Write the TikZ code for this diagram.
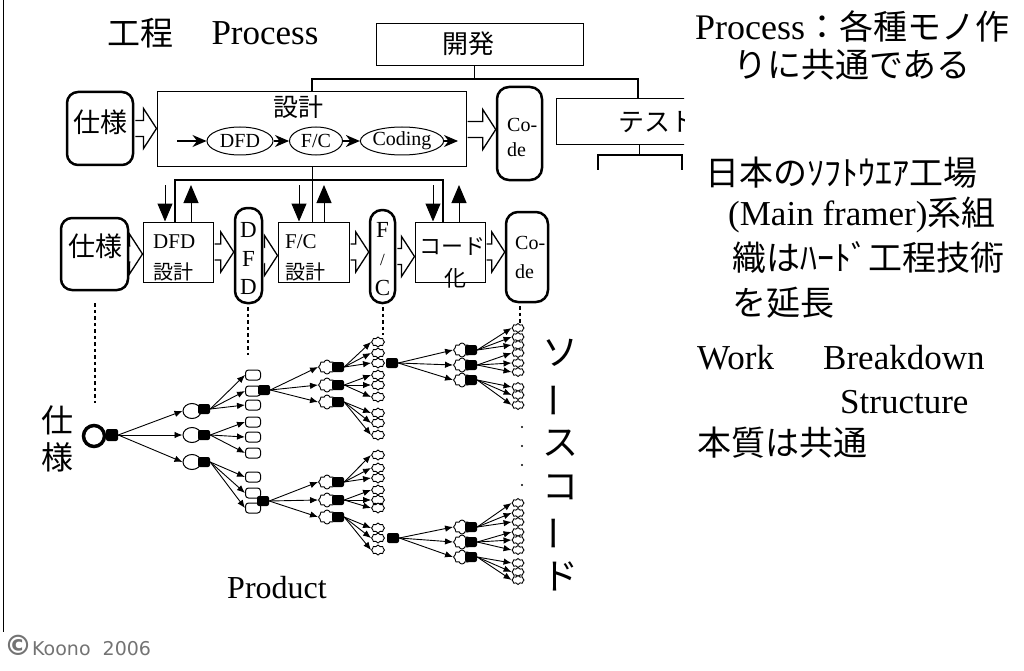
\documentclass[tikz,border=0pt]{standalone}
\usepackage{fontspec}
\setmainfont{Liberation Serif}
\newfontfamily\jp{Noto Sans CJK JP}
\newfontfamily\dv{DejaVu Sans}
\usetikzlibrary{arrows.meta,shapes.geometric,shapes.symbols,calc}
\newcommand\fsz[1]{\fontsize{#1}{#1}\selectfont}
\newcommand\harr[2]{\draw[harrow] let \p1=(#1.east), \p2=(#2.west) in
  (\x1+1pt,\y1+8pt) -- (\x2-13pt,\y1+8pt) -- (\x2-13pt,\y1+20pt) -- (\x2,\y1)
  -- (\x2-13pt,\y1-20pt) -- (\x2-13pt,\y1-8pt) -- (\x1+1pt,\y1-8pt);}
\newcommand\kids[5]{\foreach \yy [count=\k] in {#4} {\node[#5] (#2\k) at (#3,\yy) {}; \draw[tarr] (#1.east) -- (#2\k.west);}}
\begin{document}
\begin{tikzpicture}[x=1pt,y=-1pt,
 thickbox/.style={draw, line width=2.5pt, rounded corners=11pt, inner sep=0pt, fill=white},
 thinbox/.style={draw, line width=1pt, inner sep=0pt, fill=white},
 harrow/.style={draw, line width=1.3pt, fill=white, line join=miter},
 barr/.style={line width=1.4pt, -{Stealth[length=14pt,width=12pt]}},
 vdn/.style={line width=1pt, -{Triangle[length=18pt,width=15pt]}},
 thk/.style={line width=2.8pt},
 thn/.style={line width=1pt},
 dotl/.style={line width=2.8pt, dash pattern=on 3.5pt off 3pt},
 ell/.style={draw, ellipse, line width=1pt, inner sep=0pt, minimum height=28pt, fill=white, font=\fsz{20}},
 tarr/.style={line width=0.9pt, -{Latex[length=8pt,width=6.5pt]}},
 n1/.style={draw, ellipse, fill=white, line width=1pt, minimum width=18pt, minimum height=15pt, inner sep=0pt},
 n2/.style={draw, rounded corners=3pt, fill=white, line width=1pt, minimum width=15pt, minimum height=10pt, inner sep=0pt},
 n3/.style={draw, cloud, cloud puffs=8, cloud ignores aspect, fill=white, line width=0.9pt, minimum width=17pt, minimum height=14pt, inner sep=0pt},
 n4/.style={n3, minimum width=13pt, minimum height=10pt},
 n6/.style={n3, minimum width=12pt, minimum height=9pt},
 blob/.style={fill=black, rounded corners=2pt, minimum width=12pt, minimum height=10pt, inner sep=0pt},
 lt/.style={inner sep=0pt},
 dotn/.style={fill=black, circle, inner sep=0pt, minimum size=2.4pt}
]
\useasboundingbox (0,0) rectangle (1024,671);
\draw[line width=1pt] (3,0) -- (3,632);

% titles
\node[lt, font=\jp\fsz{33}] (kotei) at (140,33) {工程};
\node[lt, font=\fsz{35}] (proc) at (265,33) {Process};

% top row
\node[thinbox, minimum width=207pt, minimum height=42pt] (kaihatsu) at (479.5,45) {};
\node[lt, font=\jp\fsz{26}] (kaihatsut) at (468,44) {開発};
\node[thickbox, minimum width=66pt, minimum height=73pt] (shiyo1) at (100,128.5) {};
\node[lt, font=\jp\fsz{27}] (shiyo1t) at (100,122) {仕様};
\node[thinbox, minimum width=309pt, minimum height=75pt] (sekkei) at (311.5,129.5) {};
\node[lt, font=\jp\fsz{25}] (sekkeit) at (298,107) {設計};
\node[thickbox, rounded corners=12pt, minimum width=45pt, minimum height=93pt] (code1) at (519.5,133.5) {};
\node[lt, font=\fsz{20}, anchor=west] (code1a) at (507,125) {Co-};
\node[lt, font=\fsz{20}, anchor=west] (code1b) at (507,150) {de};
\harr{shiyo1}{sekkei}
\harr{sekkei}{code1}

\node[ell, minimum width=66pt] (dfde) at (240,141) {DFD};
\node[ell, minimum width=53pt] (fce) at (316,141) {F/C};
\node[ell, minimum width=60pt] (codinge) at (402,141) {Coding};
\coordinate (i0) at (177,141);
\coordinate (i1) at (458,141);
\draw[barr] (i0) -- (dfde.west);
\draw[barr] (dfde.east) -- (fce.west);
\draw[barr] (fce.east) -- (codinge.west);
\draw[barr] (codinge.east) -- (i1);

% test box (clipped)
\begin{scope}
\clip (0,0) rectangle (684,671);
\node[thinbox, minimum width=170pt, minimum height=46pt] (test) at (641,122) {};
\node[lt, font=\jp\fsz{26}, anchor=west] (testt) at (618,122) {テスト};
\coordinate (b1) at (639,155);
\coordinate (bl) at (598,155);
\coordinate (br) at (682,155);
\coordinate (bl2) at (598,170);
\coordinate (br2) at (682,170);
\draw[thn] (test.south -| b1) -- (b1);
\draw[thk] (bl2) -- (bl) -- (br) -- (br2);
\end{scope}

\coordinate (k1) at (474,79);
\coordinate (tl) at (312,79);
\coordinate (tr) at (638,79);
\draw[thn] (kaihatsu.south -| k1) -- (k1);
\draw[thk] (sekkei.north -| tl) -- (tl) -- (tr) -- (test.north -| tr);

% middle row
\node[thickbox, minimum width=67pt, minimum height=72pt] (shiyo2) at (94.5,254) {};
\node[lt, font=\jp\fsz{27}] (shiyo2t) at (95,246) {仕様};
\node[thinbox, minimum width=70pt, minimum height=60pt] (dfdd) at (178,252) {};
\node[lt, font=\fsz{21}, anchor=west] (dfdda) at (153,242) {DFD};
\node[lt, font=\jp\fsz{20}, anchor=west] (dfddb) at (153,272) {設計};
\node[thickbox, rounded corners=12pt, minimum width=27pt, minimum height=95pt] (dfdv) at (248.5,255.5) {};
\node[lt, font=\fsz{23}] (dfdv1) at (248.5,230) {D};
\node[lt, font=\fsz{23}] (dfdv2) at (248.5,259) {F};
\node[lt, font=\fsz{23}] (dfdv3) at (248.5,287) {D};
\node[thinbox, minimum width=71pt, minimum height=60pt] (fcd) at (313.5,252) {};
\node[lt, font=\fsz{21}, anchor=west] (fcda) at (285,242) {F/C};
\node[lt, font=\jp\fsz{20}, anchor=west] (fcdb) at (285,272) {設計};
\node[thickbox, rounded corners=12pt, minimum width=25pt, minimum height=93pt] (fcv) at (382.5,256.5) {};
\node[lt, font=\fsz{23}] (fcv1) at (382.5,230) {F};
\node[lt, font=\fsz{17}] (fcv2) at (382.5,260) {/};
\node[lt, font=\fsz{23}] (fcv3) at (382.5,288) {C};
\node[thinbox, minimum width=70pt, minimum height=60pt] (cdk) at (450,252) {};
\node[lt, font=\jp\fsz{22}] (cdka) at (452,247) {コード};
\node[lt, font=\jp\fsz{22}] (cdkb) at (455,278) {化};
\node[thickbox, rounded corners=12pt, minimum width=42pt, minimum height=90pt] (code2) at (527,257) {};
\node[lt, font=\fsz{20}, anchor=west] (code2a) at (515,243) {Co-};
\node[lt, font=\fsz{20}, anchor=west] (code2b) at (515,272) {de};
\harr{shiyo2}{dfdd}
\harr{dfdd}{dfdv}
\harr{dfdv}{fcd}
\harr{fcd}{fcv}
\harr{fcv}{cdk}
\harr{cdk}{code2}

% links between rows
\coordinate (h1) at (175,180);
\coordinate (h2) at (443,180);
\draw[thk] (dfdd.north -| h1) -- (h1) -- (h2) -- (cdk.north -| h2);
\coordinate (m1) at (312,167);
\draw[thn] (sekkei.south -| m1) -- (fcd.north -| m1);
\coordinate (dn1) at (165,185);
\coordinate (up1) at (191,185);
\coordinate (dn2) at (299,185);
\coordinate (up2) at (324,185);
\coordinate (dn3) at (433,185);
\coordinate (up3) at (459,185);
\draw[vdn] (dn1) -- (dfdd.north -| dn1);
\draw[vdn] (dfdd.north -| up1) -- (up1);
\draw[vdn] (dn2) -- (fcd.north -| dn2);
\draw[vdn] (fcd.north -| up2) -- (up2);
\draw[vdn] (dn3) -- (cdk.north -| dn3);
\draw[vdn] (cdk.north -| up3) -- (up3);

% dotted links
\coordinate (e1) at (95,403);
\coordinate (e2) at (248,355);
\coordinate (e3) at (383,335);
\coordinate (e4) at (520,330);
\draw[dotl] ([yshift=-12pt]shiyo2.south -| e1) -- (e1);
\draw[dotl] ([yshift=-3pt]dfdv.south -| e2) -- (e2);
\draw[dotl] ([yshift=-3pt]fcv.south -| e3) -- (e3);
\draw[dotl] ([yshift=-3pt]code2.south -| e4) -- (e4);

% tree
\node[draw, circle, line width=3.5pt, minimum size=21pt, inner sep=0pt, fill=white] (root) at (94,436) {};
\node[blob, minimum width=12pt, minimum height=12pt] (rootb) at (112,435) {};
\kids{rootb}{a}{192}{411,435,462}{n1}
\node[blob] (ab1) at (204,409) {};
\node[blob] (ab2) at (204,435) {};
\node[blob] (ab3) at (204,462) {};
\kids{ab1}{cA}{253}{375,391,405}{n2}
\kids{ab2}{cB}{253}{422,437,453}{n2}
\kids{ab3}{cC}{253}{477,493,508}{n2}
\node[blob] (cb1) at (264,390) {};
\node[blob] (cb2) at (263,501) {};
\kids{cb1}{dA}{327}{367,385,402}{n3}
\kids{cb2}{dB}{327}{482,500,517}{n3}
\node[blob] (dAb1) at (338,367) {};
\node[blob] (dAb2) at (338,385) {};
\node[blob] (dAb3) at (338,402) {};
\node[blob] (dBb1) at (338,482) {};
\node[blob] (dBb2) at (338,500) {};
\node[blob] (dBb3) at (338,517) {};
\kids{dAb1}{eA}{378}{342,353,363}{n4}
\kids{dAb2}{eB}{378}{375,385,397}{n4}
\kids{dAb3}{eC}{378}{413,423,435}{n4}
\kids{dBb1}{eD}{378}{455,468,478}{n4}
\kids{dBb2}{eE}{378}{490,500,508}{n4}
\kids{dBb3}{eF}{378}{528,538,550}{n4}
\node[blob] (eAb) at (392,363) {};
\node[blob] (eFb) at (393,538) {};
\kids{eAb}{fA}{462}{350,365,380}{n3}
\kids{eFb}{fB}{462}{527,542,557}{n3}
\node[blob] (fAb1) at (471,350) {};
\node[blob] (fAb2) at (471,365) {};
\node[blob] (fAb3) at (471,380) {};
\node[blob] (fBb1) at (471,527) {};
\node[blob] (fBb2) at (471,542) {};
\node[blob] (fBb3) at (471,557) {};
\kids{fAb1}{gA}{518}{328,337,345}{n6}
\kids{fAb2}{gB}{518}{353,363,372}{n6}
\kids{fAb3}{gC}{518}{387,395,405}{n6}
\kids{fBb1}{gD}{518}{503,513,522}{n6}
\kids{fBb2}{gE}{518}{532,540,550}{n6}
\kids{fBb3}{gF}{518}{563,572,580}{n6}
\node[dotn] (dt1) at (522,427) {};
\node[dotn] (dt2) at (522,446) {};
\node[dotn] (dt3) at (522,465) {};
\node[dotn] (dt4) at (522,485) {};

% tree labels
\node[lt, font=\jp\fsz{32}] (lsh1) at (57,420) {仕};
\node[lt, font=\jp\fsz{32}] (lsh2) at (57,457) {様};
\node[lt, font=\jp\fsz{36}] (sc1) at (560,353) {ソ};
\node[lt, font=\jp\fsz{36}, rotate=90] (sc2) at (560,400) {ー};
\node[lt, font=\jp\fsz{36}] (sc3) at (560,443) {ス};
\node[lt, font=\jp\fsz{36}] (sc4) at (560,487) {コ};
\node[lt, font=\jp\fsz{36}, rotate=90] (sc5) at (560,533) {ー};
\node[lt, font=\jp\fsz{36}] (sc6) at (560,576) {ド};
\node[lt, font=\fsz{32}] (prod) at (277,588) {Product};

% right text
\node[lt, anchor=west] (r1) at (695,27) {\fsz{36}Process{\jp\fsz{34}：各種モノ作}};
\node[lt, anchor=west, font=\jp\fsz{34}] (r2) at (733,65) {りに共通である};
\node[lt, anchor=west, font=\jp\fsz{34}] (r3) at (705,173) {日本のｿﾌﾄｳｴｱ工場};
\node[lt, anchor=west] (r4) at (728,215) {\fsz{35}(Main framer){\jp\fsz{34}系組}};
\node[lt, anchor=west, font=\jp\fsz{34}] (r5) at (732,257) {織はﾊｰﾄﾞ工程技術};
\node[lt, anchor=west, font=\jp\fsz{34}] (r6) at (732,303) {を延長};
\node[lt, anchor=west, font=\fsz{35}] (r7a) at (697,358) {Work};
\node[lt, anchor=west, font=\fsz{35}] (r7b) at (823,358) {Breakdown};
\node[lt, anchor=west, font=\fsz{35}] (r8) at (840,402) {Structure};
\node[lt, anchor=west, font=\jp\fsz{34}] (r9) at (697,443) {本質は共通};

% copyright
\node[lt, anchor=west, text=black!55] (copy) at (4,645) {{\dv\bfseries\fsz{28}©}{\dv\fsz{19}Koono\ \ 2006}};
\end{tikzpicture}
\end{document}
